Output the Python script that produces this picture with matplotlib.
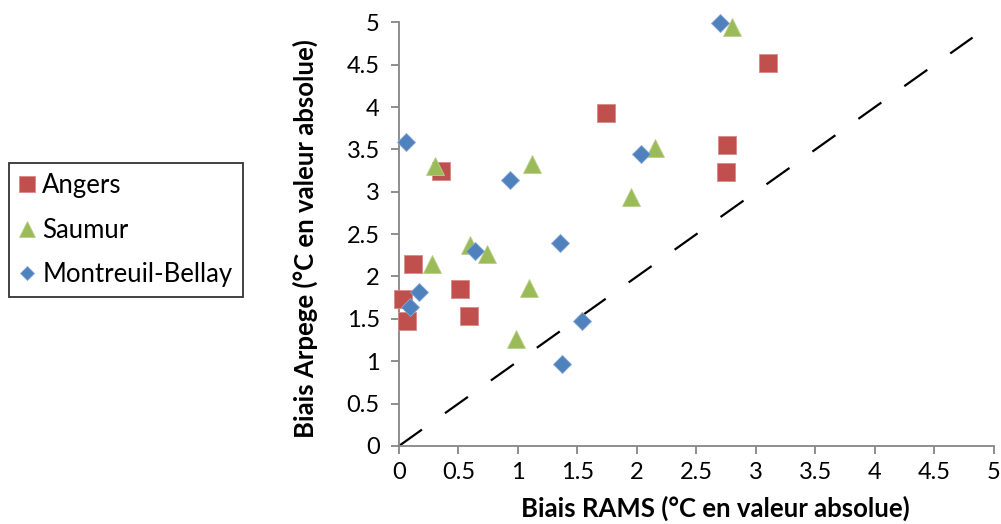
import matplotlib
matplotlib.use("Agg")
from matplotlib import pyplot as plt

plt.rcParams['font.family'] = ['Lato', 'DejaVu Sans']
plt.rcParams['lines.scale_dashes'] = False

# Biais RAMS (x) / Biais Arpege (y), en valeur absolue
angers_x = [0.03, 0.07, 0.12, 0.51, 0.59, 0.35, 1.74, 2.76, 2.75, 3.10]
angers_y = [1.73, 1.47, 2.15, 1.85, 1.53, 3.24, 3.93, 3.55, 3.23, 4.52]

saumur_x = [0.30, 1.12, 2.80, 2.15, 1.95, 0.60, 0.74, 0.28, 1.09, 0.98]
saumur_y = [3.30, 3.33, 4.94, 3.52, 2.94, 2.37, 2.27, 2.15, 1.86, 1.26]

montreuil_x = [0.06, 0.93, 2.03, 2.70, 1.35, 0.64, 0.17, 0.09, 1.54, 1.37]
montreuil_y = [3.59, 3.14, 3.45, 4.99, 2.40, 2.30, 1.82, 1.64, 1.48, 0.97]

diag = [0, 4.82]
ticks = [0, 0.5, 1, 1.5, 2, 2.5, 3, 3.5, 4, 4.5, 5]
tick_labels = ['0', '0.5', '1', '1.5', '2', '2.5', '3', '3.5', '4', '4.5', '5']

fig = plt.figure(figsize=(10.01, 5.24), dpi=100, facecolor='white')
ax = fig.add_axes([0.3986, 0.149, 0.5944, 0.8084])

ax.plot(diag, diag, color='black', lw=1.6, dashes=(20.3, 20.3), zorder=1)
ax.plot(angers_x, angers_y, ls='none', marker='s', ms=13, color='#C0504D',
        mec='#D88A88', mew=0.6, label='Angers', zorder=3, clip_on=False)
ax.plot(saumur_x, saumur_y, ls='none', marker='^', ms=13, color='#9BBB59',
        mec='#B9D08A', mew=0.6, label='Saumur', zorder=3, clip_on=False)
ax.plot(montreuil_x, montreuil_y, ls='none', marker='D', ms=8.8, color='#4F81BD',
        mec='#86A7D4', mew=0.6, label='Montreuil-Bellay', zorder=3, clip_on=False)

ax.set_xlim(0, 5)
ax.set_ylim(0, 5)
ax.set_xticks(ticks)
ax.set_xticklabels(tick_labels)
ax.set_yticks(ticks)
ax.set_yticklabels(tick_labels)
for s in ['top', 'right']:
    ax.spines[s].set_visible(False)
for s in ['left', 'bottom']:
    ax.spines[s].set_color('#868686')
    ax.spines[s].set_linewidth(1.3)
ax.tick_params(axis='both', direction='out', length=5.8, width=1.3, color='#868686',
               labelsize=17, labelcolor='black')
ax.tick_params(axis='x', pad=6)
ax.tick_params(axis='y', pad=8)

ax.set_xlabel('Biais RAMS (°C en valeur absolue)', fontsize=18.5, fontweight='bold', va='center')
ax.set_ylabel('Biais Arpege (°C en valeur absolue)', fontsize=18.5, fontweight='bold', va='center')
ax.xaxis.set_label_coords(0.531, -0.148)
ax.yaxis.set_label_coords(-0.158, 0.4895)

leg = ax.legend(loc='upper left', bbox_to_anchor=(0.009, 0.689), bbox_transform=fig.transFigure,
                fontsize=18.5, frameon=True, fancybox=False, markerscale=0.85,
                handlelength=0.6, handletextpad=0.3, borderpad=0.4, labelspacing=0.75,
                borderaxespad=0)
leg.get_frame().set_edgecolor('black')
leg.get_frame().set_linewidth(1.3)

fig.savefig('out.png', dpi=100, facecolor='white')
